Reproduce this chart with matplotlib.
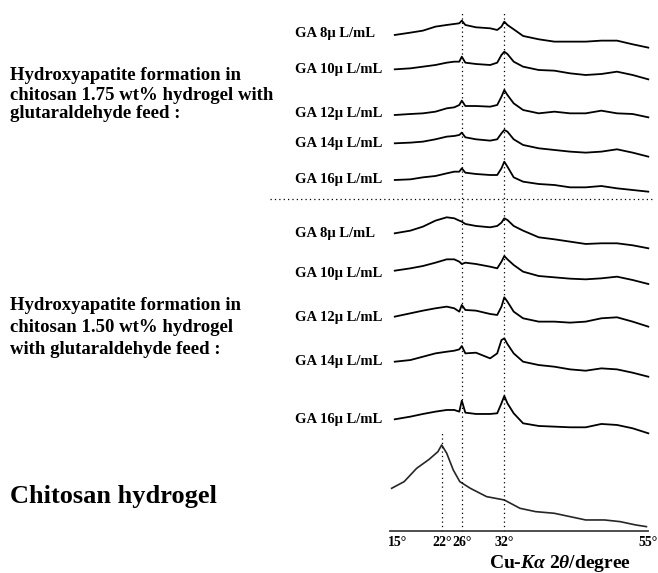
"""XRD patterns of hydroxyapatite formed in chitosan hydrogels (stacked traces)."""

import numpy as np
import matplotlib

matplotlib.use("Agg")
from matplotlib import pyplot as plt
from matplotlib import transforms

plt.rcParams["font.family"] = ["Liberation Serif", "DejaVu Serif"]
plt.rcParams["font.weight"] = "bold"
plt.rcParams["mathtext.fontset"] = "custom"
plt.rcParams["mathtext.rm"] = "Liberation Serif:bold"
plt.rcParams["mathtext.it"] = "Liberation Serif:italic:bold"
plt.rcParams["mathtext.bf"] = "Liberation Serif:bold"

# --- data ------------------------------------------------------------------
two_theta = [14.5, 17, 19, 21, 23, 24.5, 25.5, 26, 26.5, 28, 30, 31, 31.6,
             32, 32.5, 33.5, 35, 37.5, 40, 42.5, 45, 47.5, 50, 52.5, 55]

ga_labels = ["GA 8\u03bc L/mL", "GA 10\u03bc L/mL", "GA 12\u03bc L/mL",
             "GA 14\u03bc L/mL", "GA 16\u03bc L/mL"]

# chitosan 1.75 wt% series (intensity, a.u.)
ga175_8 = [55, 62, 68, 80, 85, 88, 90, 98, 85, 78, 75, 70, 80, 95, 85, 72, 52, 42, 35, 35, 35, 38, 38, 27, 17]
ga175_10 = [59, 62, 67, 72, 79, 82, 82, 97, 79, 75, 72, 79, 102, 112, 105, 82, 67, 57, 55, 47, 42, 45, 52, 42, 29]
ga175_12 = [57, 60, 62, 67, 77, 80, 87, 100, 84, 84, 82, 87, 112, 132, 117, 92, 72, 62, 67, 62, 62, 70, 62, 60, 50]
ga175_14 = [60, 62, 65, 72, 80, 82, 85, 92, 78, 72, 68, 72, 90, 100, 95, 72, 55, 45, 40, 35, 32, 35, 42, 32, 20]
ga175_16 = [60, 62, 68, 72, 80, 85, 85, 95, 82, 78, 75, 75, 95, 115, 100, 68, 55, 48, 45, 38, 38, 42, 35, 30, 25]

# chitosan 1.50 wt% series (intensity, a.u.)
ga150_8 = [60, 68, 80, 98, 108, 105, 98, 95, 88, 82, 78, 82, 92, 105, 100, 82, 68, 48, 42, 35, 28, 30, 30, 24, 15]
ga150_10 = [70, 77, 84, 94, 104, 104, 97, 90, 94, 90, 82, 77, 97, 114, 104, 87, 67, 54, 50, 46, 44, 47, 52, 42, 30]
ga150_12 = [62, 72, 80, 87, 92, 87, 77, 97, 82, 80, 70, 67, 92, 120, 107, 77, 57, 47, 47, 44, 47, 57, 60, 47, 32]
ga150_14 = [60, 65, 75, 85, 90, 93, 97, 107, 85, 87, 70, 85, 125, 130, 113, 85, 60, 50, 45, 37, 33, 40, 37, 27, 15]
ga150_16 = [60, 68, 76, 83, 88, 88, 83, 116, 80, 76, 76, 78, 108, 130, 108, 78, 48, 40, 38, 36, 36, 46, 43, 33, 18]

# plain chitosan hydrogel
chitosan_theta = [14, 16, 18, 20, 21.4, 22, 23, 24.3, 25.6, 27.2, 29.5, 32,
                  34.5, 37, 40, 42.5, 45, 48, 50.5, 53, 54.7]
chitosan_int = [135, 155, 195, 222, 245, 265, 240, 190, 155, 135, 110, 100,
                75, 65, 60, 50, 40, 40, 35, 25, 20]

tick_deg = [15, 22, 26, 32, 55]
ref_lines = [22, 26, 32]

# --- layout -----------------------------------------------------------------
W, H = 658, 573
SCALE = 1 / 3.0                       # px per intensity unit
offsets_175 = [477.7, 442, 397, 367.7, 331]
offsets_150 = [277.7, 237, 193.7, 149.3, 91.7]
chitosan_offset = -2.3

# the original drawing is not quite linear in 2theta
DEG_KNOTS = [10, 15, 22, 26, 32, 55, 60]
PX_KNOTS = [366.6, 397.9, 441.7, 461.8, 504.3, 648.3, 679.6]


def fwd(d):
    return np.interp(d, DEG_KNOTS, PX_KNOTS)


def inv(p):
    return np.interp(p, PX_KNOTS, DEG_KNOTS)


fig = plt.figure(figsize=(W / 100, H / 100), dpi=100)
ax_left, ax_right = 388, 655
ax = fig.add_axes([ax_left / W, 0, (ax_right - ax_left) / W, 1])
ax.set_xscale("function", functions=(fwd, inv))
ax.set_xlim(inv(ax_left), inv(ax_right))
ax.set_ylim(-42, 531)
ax.set_axis_off()

fig_y = transforms.blended_transform_factory(fig.transFigure, ax.transData)

series_175 = [ga175_8, ga175_10, ga175_12, ga175_14, ga175_16]
series_150 = [ga150_8, ga150_10, ga150_12, ga150_14, ga150_16]
for series, offsets in ((series_175, offsets_175), (series_150, offsets_150)):
    for label, vals, off in zip(ga_labels, series, offsets):
        y = off + np.asarray(vals, dtype=float) * SCALE
        ax.plot(two_theta, y, color="black", linewidth=1.3)
        fig.text(295 / W, off + 20, label, transform=fig_y, ha="left",
                 va="center", fontsize=10.5)

ax.plot(chitosan_theta, chitosan_offset + np.asarray(chitosan_int) * SCALE,
        color="0.15", linewidth=1.2)

# reference lines
dots = (0, (1, 2.5))
line_tops = [98, 518, 519]
for pos, top in zip(ref_lines, line_tops):
    ax.plot([pos, pos], [0, top], color="black", linewidth=0.9, linestyle=dots)
ax.plot([270 / W, 653 / W], [331.7, 331.7], transform=fig_y, color="black",
        linewidth=0.9, linestyle=dots, clip_on=False)

# bottom axis
ax.plot([inv(390), 55], [0, 0], color="0.25", linewidth=1.3)
for t in tick_deg:
    ax.text(t, -12, f"{t}\u00b0", ha="center", va="center", fontsize=10)
ax.text((560 - ax_left) / (ax_right - ax_left), -32,
        r"Cu-$\mathit{K\alpha}$ 2$\mathit{\theta}$/degree",
        transform=transforms.blended_transform_factory(ax.transAxes, ax.transData),
        ha="center", va="center", fontsize=14)

# left-hand annotations
block_175 = ["Hydroxyapatite formation in", "chitosan 1.75 wt% hydrogel with",
             "glutaraldehyde feed :"]
block_150 = ["Hydroxyapatite formation in", "chitosan 1.50 wt% hydrogel",
             "with glutaraldehyde feed :"]
for lines, ys in ((block_175, [75, 95, 114]), (block_150, [305, 328, 350])):
    for txt, ypx in zip(lines, ys):
        fig.text(10 / W, 1 - ypx / H, txt, ha="left", va="center", fontsize=13.5)
fig.text(10 / W, 1 - 497 / H, "Chitosan hydrogel", ha="left", va="center",
         fontsize=19)

fig.savefig("out.png", dpi=100)
